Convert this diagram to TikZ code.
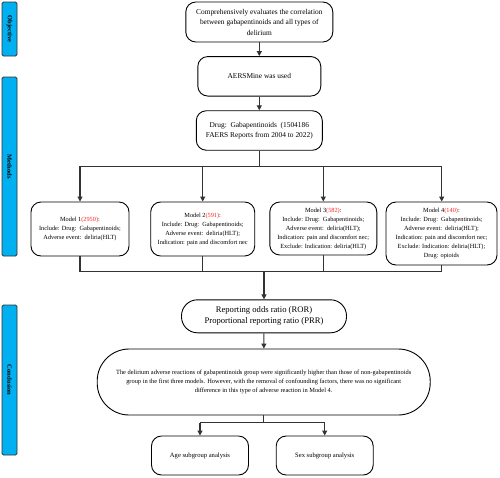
\documentclass[tikz,border=0pt]{standalone}
\usepackage{fontspec}
\setmainfont{Liberation Serif}
\usetikzlibrary{arrows.meta}
\definecolor{barblue}{HTML}{00B0F0}
\definecolor{numred}{HTML}{FF2020}
\definecolor{linegray}{HTML}{333333}
\tikzset{
  sidebar/.style={draw=linegray, fill=barblue, line width=0.9pt, rounded corners=1.5pt, minimum width=15pt, inner sep=0pt},
  sidelabel/.style={font=\fontsize{6.5}{7}\selectfont\bfseries, rotate=-90},
  box/.style={draw=black, line width=0.9pt, rounded corners=10pt, align=center, inner sep=1pt},
  pill/.style={draw=black, line width=0.9pt, align=center, inner sep=1pt},
  conn/.style={draw=linegray, line width=1.1pt},
  arr/.style={conn, -{Triangle[length=5pt,width=5pt]}},
}
\begin{document}
\begin{tikzpicture}[x=1pt,y=-1pt]
\useasboundingbox (0,0) rectangle (500,477);
% side bars
\node[sidebar, minimum height=54pt] (objbar) at (9.5,29) {};
\node[sidelabel] (objlab) at (objbar.center) {Objective};
\node[sidebar, minimum height=179pt] (metbar) at (9.5,166.5) {};
\node[sidelabel] (metlab) at (metbar.center) {Methods};
\node[sidebar, minimum height=150pt] (conbar) at (9.5,380) {};
\node[sidelabel] (conlab) at (conbar.center) {Conclusion};
% main boxes
\node[box, minimum width=147pt, minimum height=40pt, font=\fontsize{7.4}{10.5}\selectfont] (b1) at (259.3,22)
  {Comprehensively evaluates the correlation\\between gabapentinoids and all types of\\delirium};
\node[box, minimum width=123pt, minimum height=39.5pt, font=\fontsize{7.4}{10.5}\selectfont] (b2) at (259.3,76.3)
  {AERSMine was used};
\node[box, minimum width=126pt, minimum height=39.5pt, font=\fontsize{7.4}{10.5}\selectfont] (b3) at (259.3,130.5)
  {Drug:\ \ Gabapentinoids\ \ (1504186\\FAERS Reports from 2004 to 2022)};
% models
\tikzset{mfont/.style={font=\fontsize{6.3}{9}\selectfont}}
\node[box, mfont, minimum width=98pt, minimum height=54pt] (m1) at (80,229)
  {Model 1\textcolor{numred}{(2950)}:\\Include: Drug:\ \ Gabapentinoids;\\Adverse event:\ \ deliria(HLT)};
\node[box, mfont, minimum width=104pt, minimum height=54pt] (m2) at (202.7,229)
  {Model 2\textcolor{numred}{(591)}:\\Include: Drug:\ \ Gabapentinoids;\\Adverse event:\ \ deliria(HLT);\\Indication: pain and discomfort nec};
\node[box, mfont, minimum width=107pt, minimum height=53pt] (m3) at (323.3,228.5)
  {Model 3\textcolor{numred}{(582)}:\\Include: Drug:\ \ Gabapentinoids;\\Adverse event:\ \ deliria(HLT);\\Indication: pain and discomfort nec;\\Exclude: Indication: deliria(HLT)};
\node[box, mfont, minimum width=111pt, minimum height=63pt] (m4) at (441.5,233.5)
  {Model 4\textcolor{numred}{(140)}:\\Include: Drug:\ \ Gabapentinoids;\\Adverse event:\ \ deliria(HLT);\\Indication: pain and discomfort nec;\\Exclude: Indication: deliria(HLT);\\Drug: opioids};
% ROR
\node[pill, rounded corners=16pt, minimum width=165pt, minimum height=33pt, font=\fontsize{8.6}{11}\selectfont] (ror) at (264,316.3)
  {Reporting odds ratio (ROR)\\Proportional reporting ratio (PRR)};
% conclusion
\node[pill, rounded corners=32pt, minimum width=333pt, minimum height=66pt, font=\fontsize{6.4}{9}\selectfont] (con) at (263.7,382)
  {The delirium adverse reactions of gabapentinoids group were significantly higher than those of non-gabapentinoids\\group in the first three models. However, with the removal of confounding factors, there was no significant\\difference in this type of adverse reaction in Model 4.};
\node[box, minimum width=97pt, minimum height=39pt, font=\fontsize{6.6}{9}\selectfont] (age) at (200,455.5) {Age subgroup analysis};
\node[box, minimum width=97pt, minimum height=39pt, font=\fontsize{6.6}{9}\selectfont] (sex) at (324.7,455.5) {Sex subgroup analysis};
% connectors
\draw[arr] (b1) -- (b2);
\draw[arr] (b2) -- (b3);
\coordinate (hub1) at (259.3,166.3);
\coordinate (t1) at (80,166.3);
\coordinate (t2) at (202.7,166.3);
\coordinate (t3) at (323.3,166.3);
\coordinate (t4) at (441.7,166.3);
\draw[conn] (b3.south) -- (hub1);
\draw[conn] (t1) -- (t4);
\draw[arr] (t1) -- (t1 |- m1.north);
\draw[arr] (t2) -- (t2 |- m2.north);
\draw[arr] (t3) -- (t3 |- m3.north);
\draw[arr] (t4) -- (t4 |- m4.north);
\coordinate (u1) at (80,271.7);
\coordinate (u2) at (202.7,271.7);
\coordinate (u3) at (323.3,271.7);
\coordinate (u4) at (441.7,271.7);
\coordinate (hub2) at (264,271.7);
\draw[conn] (m1.south) -- (u1);
\draw[conn] (m2.south) -- (u2);
\draw[conn] (m3.south) -- (u3);
\draw[conn] (u4 |- m4.south) -- (u4);
\draw[conn] (u1) -- (u4);
\draw[arr] (hub2) -- (ror);
\draw[arr] (ror) -- (con);
\coordinate (hub3) at (263.7,422.7);
\coordinate (v1) at (200,422.7);
\coordinate (v2) at (324.7,422.7);
\draw[conn] (con.south) -- (hub3);
\draw[conn] (v1) -- (v2);
\draw[arr] (v1) -- (age);
\draw[arr] (v2) -- (sex);
\end{tikzpicture}
\end{document}
